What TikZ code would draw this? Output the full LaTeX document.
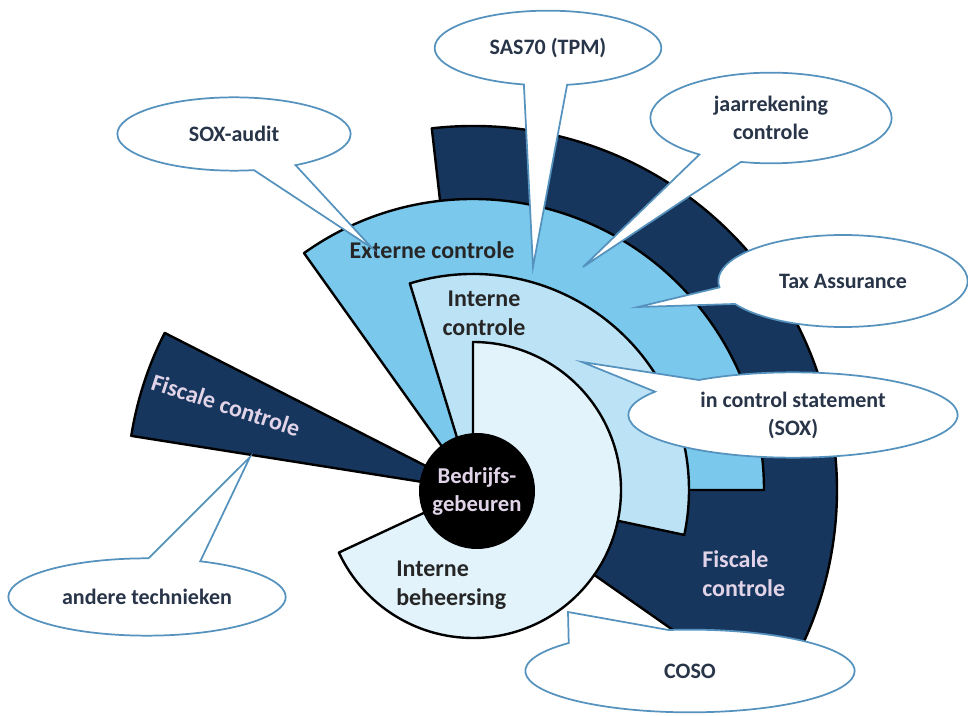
\documentclass[tikz,border=0pt]{standalone}
\usepackage{fontspec}
\setmainfont{Carlito}
\usetikzlibrary{shapes.callouts}

\definecolor{navy}{RGB}{23,54,93}
\definecolor{sky}{RGB}{122,200,236}
\definecolor{pale}{RGB}{188,226,245}
\definecolor{ice}{RGB}{226,243,252}
\definecolor{rim}{RGB}{86,146,190}
\definecolor{ink}{RGB}{40,52,72}
\definecolor{lilac}{RGB}{226,212,232}

\tikzset{
  sector/.style={draw=black, line width=1.8pt, line join=round},
  tag/.style={font=\fontsize{18}{22}\selectfont\bfseries, text=black!85, inner sep=0pt},
  bubble/.style={ellipse callout, draw=rim, line width=1.3pt, fill=white, text=ink,
    align=center, inner sep=0pt, callout pointer arc=22,
    font=\fontsize{16.5}{21}\selectfont\bfseries}
}

\begin{document}
\begin{tikzpicture}[x=0.75pt,y=0.75pt,yscale=-1,xscale=1]
\useasboundingbox (0,0) rectangle (968,716);
\fill[white] (0,0) rectangle (968,716);

\coordinate (c) at (473,490);

%Sectors, outer first
\draw[sector, fill=navy] (c) -- ++(-96.5:364) arc[start angle=-96.5, end angle=35, radius=364] -- cycle;
\draw[sector, fill=navy] (c) -- ++(-171:346) arc[start angle=-171, end angle=-153, radius=346] -- cycle;
\draw[sector, fill=sky] (c) -- ++(-125.5:291) arc[start angle=-125.5, end angle=0, radius=291] -- cycle;
\draw[sector, fill=pale] (c) -- ++(-107:216) arc[start angle=-107, end angle=12, radius=216] -- cycle;
\draw[sector, fill=ice] (c) -- ++(-90:148) arc[start angle=-90, end angle=155, radius=148] -- cycle;

%Core
\node[circle, fill=black, minimum size=87pt, inner sep=0pt, align=center, text=lilac,
  font=\fontsize{17}{21}\selectfont\bfseries] (core) at (477,491) {Bedrijfs-\\gebeuren};

%Sector labels
\node[tag] (extern) at (432,250) {Externe controle};
\node[tag, align=center] (intern) at (484,313) {Interne\\controle};
\node[tag, align=left, anchor=west] (beheer) at (396,585) {Interne\\beheersing};
\node[tag, align=left, anchor=west, text=lilac] (fiscR) at (702,574) {Fiscale\\controle};
\node[tag, text=lilac, rotate=-18] (fiscL) at (226,405) {Fiscale controle};

%Pointer tips
\coordinate (tSox) at (372,248);
\coordinate (tSas) at (533,267);
\coordinate (tJaar) at (583,267);
\coordinate (tTax) at (638,307);
\coordinate (tIcs) at (582,362);
\coordinate (tCoso) at (568,612);
\coordinate (tAnd) at (250,457);

%Callouts
\node[bubble, minimum width=175pt, minimum height=55pt, callout absolute pointer={(tSox)}] (sox) at (234,134) {SOX-audit};
\node[bubble, minimum width=170pt, minimum height=56pt, callout absolute pointer={(tSas)}] (sas) at (548,48) {SAS70 (TPM)};
\node[bubble, minimum width=181pt, minimum height=68pt, callout absolute pointer={(tJaar)}] (jaar) at (771,118) {jaarrekening\\controle};
\node[bubble, minimum width=187pt, minimum height=69pt, callout absolute pointer={(tTax)}] (tax) at (843,281) {Tax Assurance};
\node[bubble, minimum width=247pt, minimum height=64pt, callout absolute pointer={(tIcs)}] (ics) at (793,415) {in control statement\\(SOX)};
\node[bubble, minimum width=247pt, minimum height=62pt, callout pointer arc=40, callout absolute pointer={(tCoso)}] (coso) at (690,671) {COSO};
\node[bubble, minimum width=208pt, minimum height=58pt, callout absolute pointer={(tAnd)}] (andere) at (147,597) {andere technieken};

\end{tikzpicture}
\end{document}
